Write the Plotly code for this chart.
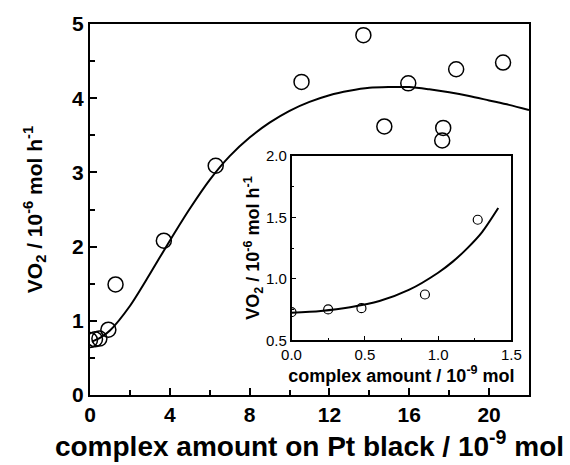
import plotly.graph_objects as go

# Main plot data
main_x = [0.0, 0.25, 0.47, 0.92, 1.28, 3.7, 6.3, 10.6, 13.7, 14.75, 15.95, 17.7, 17.65, 18.35, 20.7]
main_y = [0.74, 0.75, 0.76, 0.88, 1.49, 2.08, 3.09, 4.22, 4.85, 3.62, 4.2, 3.6, 3.43, 4.39, 4.48]
fit_x = [0.1, 0.5, 1, 2, 3, 4, 5, 6, 7, 8, 9, 10, 11, 12, 13, 14, 15, 16, 17, 18, 19, 20, 21, 22]
fit_y = [0.72, 0.77, 0.87, 1.20, 1.63, 2.08, 2.51, 2.90, 3.22, 3.47, 3.67, 3.83, 3.95, 4.04,
         4.10, 4.14, 4.15, 4.15, 4.12, 4.08, 4.03, 3.97, 3.91, 3.84]

# Inset data
ins_x = [0.0, 0.25, 0.477, 0.91, 1.27]
ins_y = [0.73, 0.752, 0.762, 0.873, 1.48]
ins_fit_x = [0.0, 0.2, 0.4, 0.6, 0.8, 1.0, 1.1, 1.2, 1.3, 1.41]
ins_fit_y = [0.725, 0.74, 0.77, 0.82, 0.91, 1.05, 1.14, 1.25, 1.38, 1.575]

main_xticks = [0, 4, 8, 12, 16, 20]
main_yticks = [0, 1, 2, 3, 4, 5]
ins_xticks = [0.0, 0.5, 1.0, 1.5]
ins_yticks = [0.5, 1.0, 1.5, 2.0]

FONT = "Liberation Sans, Arial, sans-serif"

fig = go.Figure()
fig.add_trace(go.Scatter(x=fit_x, y=fit_y, mode="lines",
                         line=dict(color="black", width=2, shape="spline", smoothing=0.8),
                         xaxis="x", yaxis="y", showlegend=False))
fig.add_trace(go.Scatter(x=main_x, y=main_y, mode="markers",
                         marker=dict(symbol="circle-open", size=15, color="black", line=dict(width=1.5)),
                         xaxis="x", yaxis="y", showlegend=False))
fig.add_trace(go.Scatter(x=ins_fit_x, y=ins_fit_y, mode="lines",
                         line=dict(color="black", width=2, shape="spline", smoothing=0.8),
                         xaxis="x2", yaxis="y2", showlegend=False))
fig.add_trace(go.Scatter(x=ins_x, y=ins_y, mode="markers",
                         marker=dict(symbol="circle-open", size=9, color="black", line=dict(width=1.2)),
                         xaxis="x2", yaxis="y2", showlegend=False))

axis_common = dict(showgrid=False, zeroline=False, showline=True, linecolor="black", mirror=True,
                   ticks="inside", tickcolor="black")

fig.update_layout(
    width=570, height=465, autosize=False,
    margin=dict(l=90, r=41, t=15, b=70),
    paper_bgcolor="white", plot_bgcolor="white",
    font=dict(family=FONT, color="black"),
    xaxis=dict(**axis_common, domain=[0, 1], range=[0, 22], tickvals=main_xticks, ticklen=7, tickwidth=2,
               linewidth=2, minor=dict(dtick=2, ticks="inside", ticklen=5, tickwidth=1.5, tickcolor="black"),
               tickfont=dict(size=21, weight="bold"),
               title=dict(text="complex amount on Pt black / 10<sup>-9</sup> mol",
                          font=dict(size=28, weight="bold"), standoff=5)),
    yaxis=dict(**axis_common, domain=[0, 1], range=[0, 5], tickvals=main_yticks, ticklen=7, tickwidth=2,
               linewidth=2, minor=dict(dtick=0.5, ticks="inside", ticklen=5, tickwidth=1.5, tickcolor="black"),
               tickfont=dict(size=21, weight="bold"),
               title=dict(text="VO<sub>2</sub> / 10<sup>-6</sup> mol h<sup>-1</sup>",
                          font=dict(size=21, weight="bold"), standoff=24)),
    xaxis2=dict(**axis_common, domain=[0.459, 0.960], anchor="y2", range=[0, 1.5], tickvals=ins_xticks,
                tickformat=".1f", ticklen=5, tickwidth=1.2, linewidth=1.5,
                minor=dict(dtick=0.25, ticks="inside", ticklen=3, tickwidth=1, tickcolor="black"),
                tickfont=dict(size=15),
                title=dict(text="complex amount / 10<sup>-9</sup> mol", font=dict(size=18, weight="bold"), standoff=0)),
    yaxis2=dict(**axis_common, domain=[0.147, 0.645], anchor="x2", range=[0.5, 2.0], tickvals=ins_yticks,
                tickformat=".1f", ticklen=5, tickwidth=1.2, linewidth=1.5,
                minor=dict(dtick=0.25, ticks="inside", ticklen=3, tickwidth=1, tickcolor="black"),
                tickfont=dict(size=15),
                title=dict(text="VO<sub>2</sub> / 10<sup>-6</sup> mol h<sup>-1</sup>",
                           font=dict(size=18, weight="bold"), standoff=0)),
)

fig.write_html("out.html")
